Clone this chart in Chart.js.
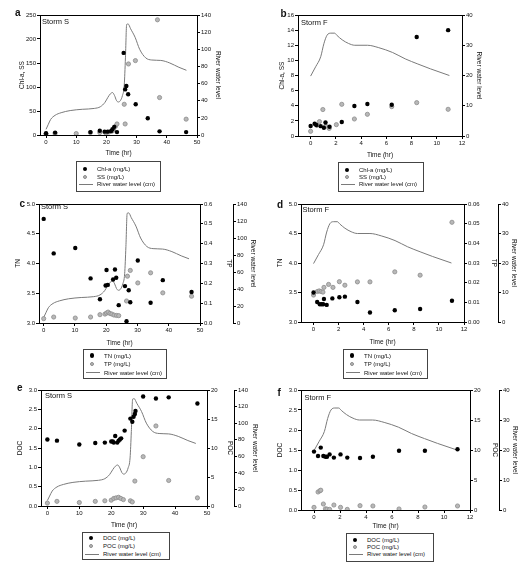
<!DOCTYPE html>
<html><head><meta charset="utf-8">
<script src="https://cdn.jsdelivr.net/npm/chart.js@4"></script>
<style>
body{margin:0;background:#fff;width:524px;height:579px;position:relative;overflow:hidden;font-family:"Liberation Sans",Arial,sans-serif;color:#111;}
canvas{position:absolute;}
.lbl{position:absolute;font-size:10px;font-weight:bold;line-height:10px;}
.storm{position:absolute;font-size:7.5px;line-height:8px;white-space:nowrap;}
.leg{position:absolute;border:1px solid #444;box-sizing:border-box;font-size:6px;}
.row{position:absolute;height:8px;line-height:8px;white-space:nowrap;}
.mk{position:absolute;border-radius:50%;box-sizing:border-box;}
.ln{position:absolute;height:1px;background:#7a7a7a;}
</style>
</head><body>
<script>
// ---------- Storm S (panels a, c, e) ----------
const levelS_t = [0, 0.7, 1.5, 3, 5, 8, 12, 16, 18, 19.5, 20.5, 21.3, 22, 22.7, 23.3, 23.9, 24.6, 25.3, 25.9, 26.3, 26.7, 27.2, 28, 29.5, 31, 33, 35, 38, 41, 44, 46.5];
const levelS   = [6.6, 12, 18, 23, 26, 28.5, 30, 31, 33, 38, 44, 48, 49.5, 46, 40.5, 38.5, 40, 46, 58, 90, 129, 129.5, 124, 114, 100, 90, 87.5, 87, 84, 79, 75.5];

const chlaS_t = [0, 3, 14.7, 17.8, 19.4, 20.4, 21.5, 22, 22.6, 23.5, 25.7, 26.2, 26.6, 27.2, 29.7, 33.7, 37.6, 46.4];
const chlaS   = [3.5, 5, 6, 9, 7, 7, 8, 12, 17, 6, 171, 95, 102, 85, 64, 35, 7.6, 6];
const ssS_t = [0, 3, 10, 14.7, 17.8, 19.8, 20.8, 21.8, 22.4, 23, 23.5, 25.9, 26.2, 27.3, 29.6, 36.9, 37.6, 46.4];
const ssS   = [2, 3, 3, 5, 5, 4, 6, 8, 10, 18, 23, 64, 23, 148, 155, 240, 78, 33];

const tnS_t = [0, 3.2, 10.1, 15, 18, 19.8, 20.1, 20.5, 22.2, 22.8, 23.2, 24, 26, 26.5, 27.2, 27.7, 30.1, 34.2, 38.1, 47.3];
const tnS   = [4.75, 4.17, 4.26, 3.75, 3.40, 3.63, 3.89, 3.64, 3.73, 3.90, 3.76, 3.30, 3.62, 3.03, 3.55, 3.35, 4.05, 3.34, 3.72, 3.52];
const tpS_t = [0, 3.2, 10.1, 15, 18, 19.6, 20.1, 20.6, 21.2, 21.8, 22.5, 23.3, 24, 26.5, 26.8, 27.7, 30.1, 34.2, 38.1, 47.3];
const tpS   = [0.022, 0.03, 0.025, 0.03, 0.042, 0.045, 0.05, 0.055, 0.048, 0.045, 0.04, 0.038, 0.037, 0.111, 0.236, 0.265, 0.202, 0.253, 0.152, 0.135];

const docS_t = [0, 3, 10, 15, 18, 20, 20.5, 20.8, 21.25, 21.9, 22.3, 22.7, 23.1, 24.2, 26, 26.6, 27, 27.4, 27.6, 30, 34, 38, 47];
const docS   = [1.72, 1.69, 1.59, 1.63, 1.64, 1.67, 1.67, 1.64, 1.81, 1.64, 1.69, 1.72, 1.75, 1.95, 2.26, 2.18, 2.31, 2.38, 2.46, 2.83, 2.78, 2.81, 2.65];
const pocS_t = [0, 3, 10, 15, 18, 20, 20.8, 21.5, 22.3, 23, 23.8, 26, 26.6, 27.4, 30, 34, 38, 47];
const pocS   = [0.5, 0.8, 0.6, 0.8, 0.9, 1.0, 1.3, 1.4, 1.5, 1.3, 1.1, 0.9, 0.7, 4.3, 8.5, 13.8, 4.4, 1.4];

// ---------- Storm F (panels b, d, f) ----------
const levelF_t = [0, 0.4, 0.8, 1.05, 1.3, 1.6, 1.9, 2.1, 2.5, 3, 3.5, 4.5, 5.4, 6.5, 7.5, 8.5, 9.5, 11];
const levelF   = [19.8, 22.9, 26.2, 30.5, 33.3, 34, 34, 33.2, 31.8, 30.6, 30, 30, 29.2, 27.6, 25.5, 23.8, 22.2, 20];

const chlaF_t = [0, 0.32, 0.45, 0.8, 1.05, 1.18, 1.5, 2.47, 3.47, 4.5, 6.43, 8.41, 10.9];
const chlaF   = [1.32, 1.62, 1.45, 1.3, 1.1, 1.78, 1.23, 1.85, 3.97, 4.23, 4.14, 13.1, 14.0];
const ssF_t = [0, 0.5, 0.7, 0.97, 1.2, 1.47, 2.04, 2.47, 3.47, 4.5, 6.43, 8.41, 10.9];
const ssF   = [0.62, 1.4, 1.9, 3.5, 1.3, 1.0, 1.5, 4.19, 2.25, 2.87, 3.88, 4.41, 3.53];

const tnF_t = [0, 0.29, 0.5, 0.64, 0.77, 0.83, 1.05, 1.5, 2.06, 2.5, 3.5, 4.5, 6.48, 8.5, 11.04];
const tnF   = [3.50, 3.34, 3.30, 3.30, 3.30, 3.39, 3.29, 3.40, 3.42, 3.43, 3.34, 3.16, 3.20, 3.22, 3.36];
const tpF_t = [0, 0.3, 0.45, 0.6, 0.75, 0.83, 1.2, 1.55, 2.06, 2.5, 3.5, 4.5, 6.48, 8.5, 11.04];
const tpF   = [0.0137, 0.0155, 0.0158, 0.0155, 0.0152, 0.0176, 0.0191, 0.0176, 0.0205, 0.0187, 0.0204, 0.0204, 0.0255, 0.0238, 0.0507];

const docF_t = [0, 0.31, 0.52, 0.72, 0.88, 1.0, 1.2, 1.53, 2.04, 2.56, 3.54, 4.53, 6.54, 8.53, 11.04];
const docF   = [1.46, 1.35, 1.56, 1.35, 1.33, 1.33, 1.39, 1.31, 1.39, 1.31, 1.30, 1.33, 1.48, 1.48, 1.52];
const pocF_t = [0, 0.31, 0.45, 0.52, 0.72, 0.88, 1.0, 1.2, 1.53, 2.04, 2.56, 3.54, 4.53, 6.54, 8.53, 11.04];
const pocF   = [0.44, 3.0, 3.2, 3.3, 1.0, 0.2, 0.15, 0.1, 0.83, 0.44, 0.1, 0.72, 0.67, 0.17, 0.5, 0.67];

// ---------- labels ----------
const timeTitle = 'Time (hr)';
const levelTitle = 'River water level';
const levelLegend = 'River water level (cm)';

const F = '"Liberation Sans", Arial, sans-serif';
const OFF = 3.9;
Chart.defaults.font.family = F;

function pts(t, v){ return t.map((x, i) => ({x: x, y: v[i]})); }

const boxPlugin = {
  id: 'box',
  afterDraw(chart){
    const a = chart.chartArea, ctx = chart.ctx;
    ctx.save();
    ctx.strokeStyle = '#000'; ctx.lineWidth = 1;
    const y = Math.round(a.top) + 0.5;
    ctx.beginPath(); ctx.moveTo(Math.round(a.left), y); ctx.lineTo(Math.round(a.right) + 1, y); ctx.stroke();
    ctx.restore();
  }
};

function yAxis(pos, min, max, step, dec, title, width, weight){
  return {
    type: 'linear', position: pos, min: min, max: max, weight: weight,
    ticks: {stepSize: step, includeBounds: false, autoSkip: false, font: {size: 6, family: F}, color: '#111', padding: 1,
            callback: v => Number(v).toFixed(dec)},
    grid: {drawOnChartArea: false, drawTicks: true, tickLength: 3, color: '#000', tickColor: '#000'},
    border: {display: true, color: '#000', width: 1},
    title: {display: true, text: title, font: {size: 6.5, family: F}, color: '#111', padding: 0},
    afterFit: s => { s.width = width; }
  };
}

function panel(g, xr, left, r1, r2, sets){
  const cl = Math.round(g.lt - OFF), ct = g.pt - 8;
  const cr = Math.round(g.rt + OFF), cb = Math.round(g.xt + OFF);
  const cv = document.createElement('canvas');
  cv.width = cr - cl; cv.height = cb - ct;
  cv.style.left = cl + 'px'; cv.style.top = ct + 'px';
  document.body.appendChild(cv);
  const scales = {
    x: {type: 'linear', position: 'bottom', min: xr[0], max: xr[1],
        ticks: {stepSize: xr[2], includeBounds: false, autoSkip: false, maxRotation: 0, font: {size: 6, family: F}, color: '#111', padding: 1,
                callback: v => String(Math.round(v))},
        grid: {drawOnChartArea: false, drawTicks: true, tickLength: 3, color: '#000', tickColor: '#000'},
        border: {display: true, color: '#000', width: 1},
        title: {display: true, text: timeTitle, font: {size: 6.5, family: F}, color: '#111', padding: 0},
        afterFit: s => { s.height = cb - g.pb; }},
    yL: yAxis('left', left[0], left[1], left[2], left[3], left[4], g.pl - cl, 0)
  };
  if (r2) {
    scales.yR = yAxis('right', r1[0], r1[1], r1[2], r1[3], r1[4], g.ax3 - g.pr, 0);
    scales.yW = yAxis('right', r2[0], r2[1], r2[2], r2[3], r2[4], cr - g.ax3, 1);
  } else {
    scales.yW = yAxis('right', r1[0], r1[1], r1[2], r1[3], r1[4], cr - g.pr, 0);
  }
  const ds = [
    {type: 'line', label: levelLegend, data: pts(sets.lt, sets.lv), yAxisID: 'yW', borderColor: '#7a7a7a', borderWidth: 1,
     pointRadius: 0, showLine: true, fill: false, cubicInterpolationMode: 'monotone', order: 3},
    {type: 'scatter', label: sets.n2, data: pts(sets.t2, sets.v2), yAxisID: sets.ax2, pointRadius: 2.1,
     backgroundColor: '#b8b8b8', borderColor: '#8c8c8c', borderWidth: 0.8, order: 2},
    {type: 'scatter', label: sets.n1, data: pts(sets.t1, sets.v1), yAxisID: 'yL', pointRadius: 2.2,
     backgroundColor: '#000', borderColor: '#000', borderWidth: 0, order: 1}
  ];
  new Chart(cv, {
    type: 'scatter',
    data: {datasets: ds},
    options: {
      responsive: false, animation: false, devicePixelRatio: 1,
      layout: {padding: {top: 8, left: 0, right: 0, bottom: 0}},
      plugins: {legend: {display: false}, tooltip: {enabled: false}},
      scales: scales
    },
    plugins: [boxPlugin]
  });
}

function text(cls, s, x, y){
  const d = document.createElement('div'); d.className = cls; d.textContent = s;
  d.style.left = x + 'px'; d.style.top = y + 'px'; document.body.appendChild(d);
}

function legend(x, y, w, h, rows, names){
  const d = document.createElement('div'); d.className = 'leg';
  d.style.left = x + 'px'; d.style.top = y + 'px'; d.style.width = w + 'px'; d.style.height = h + 'px';
  names.forEach((n, i) => {
    const cy = rows[i];
    if (i === 0) {
      const m = document.createElement('div'); m.className = 'mk';
      m.style.cssText = `left:${8 - 2.2}px;top:${cy - 2.2}px;width:4.4px;height:4.4px;background:#000;`;
      d.appendChild(m);
    } else if (i === 1) {
      const m = document.createElement('div'); m.className = 'mk';
      m.style.cssText = `left:${8 - 2}px;top:${cy - 2}px;width:4px;height:4px;background:#b8b8b8;border:0.8px solid #8c8c8c;`;
      d.appendChild(m);
    } else {
      const m = document.createElement('div'); m.className = 'ln';
      m.style.cssText = `left:2px;top:${cy - 0.5}px;width:14px;`;
      d.appendChild(m);
    }
    const r = document.createElement('div'); r.className = 'row'; r.textContent = n;
    r.style.left = '20px'; r.style.top = (cy - 4) + 'px';
    d.appendChild(r);
  });
  document.body.appendChild(d);
}

// Panel a
panel({pl: 40, pr: 197, pt: 15, pb: 135, lt: 21.7, rt: 218.3, xt: 152.7},
  [-2, 50, 10], [0, 250, 50, 0, 'Chl-a, SS'], [0, 140, 20, 0, levelTitle], null,
  {lt: levelS_t, lv: levelS, t1: chlaS_t, v1: chlaS, n1: 'Chl-a (mg/L)', t2: ssS_t, v2: ssS, n2: 'SS (mg/L)', ax2: 'yL'});
// Panel b
panel({pl: 298, pr: 462, pt: 15, pb: 136, lt: 282, rt: 478.7, xt: 155},
  [-1, 12, 2], [0, 16, 2, 0, 'Chl-a, SS'], [0, 40, 10, 0, levelTitle], null,
  {lt: levelF_t, lv: levelF, t1: chlaF_t, v1: chlaF, n1: 'Chl-a (mg/L)', t2: ssF_t, v2: ssF, n2: 'SS (mg/L)', ax2: 'yL'});
// Panel c
panel({pl: 39, pr: 200, pt: 204, pb: 323, lt: 18.3, ax3: 233, rt: 253.3, xt: 343.3},
  [-1.5, 50, 10], [3, 5, 0.5, 1, 'TN'], [0, 0.6, 0.1, 1, 'TP'], [0, 140, 20, 0, levelTitle],
  {lt: levelS_t, lv: levelS, t1: tnS_t, v1: tnS, n1: 'TN (mg/L)', t2: tpS_t, v2: tpS, n2: 'TP (mg/L)', ax2: 'yR'});
// Panel d
panel({pl: 301, pr: 464, pt: 204, pb: 322, lt: 280.3, ax3: 498, rt: 514.3, xt: 341.7},
  [-1, 12, 2], [3, 5, 0.5, 1, 'TN'], [0, 0.06, 0.01, 2, 'TP'], [0, 40, 10, 0, levelTitle],
  {lt: levelF_t, lv: levelF, t1: tnF_t, v1: tnF, n1: 'TN (mg/L)', t2: tpF_t, v2: tpF, n2: 'TP (mg/L)', ax2: 'yR'});
// Panel e
panel({pl: 41, pr: 207, pt: 390, pb: 506, lt: 20, ax3: 234, rt: 255, xt: 525},
  [-2, 50, 10], [0, 3, 0.5, 1, 'DOC'], [0, 20, 5, 0, 'POC'], [0, 140, 20, 0, levelTitle],
  {lt: levelS_t, lv: levelS, t1: docS_t, v1: docS, n1: 'DOC (mg/L)', t2: pocS_t, v2: pocS, n2: 'POC (mg/L)', ax2: 'yR'});
// Panel f
panel({pl: 301, pr: 470, pt: 390, pb: 510, lt: 280.3, ax3: 499, rt: 515.3, xt: 525.7},
  [-1, 12, 2], [0, 3, 0.5, 1, 'DOC'], [0, 20, 5, 0, 'POC'], [0, 40, 10, 0, levelTitle],
  {lt: levelF_t, lv: levelF, t1: docF_t, v1: docF, n1: 'DOC (mg/L)', t2: pocF_t, v2: pocF, n2: 'POC (mg/L)', ax2: 'yR'});

// Panel letters and storm names
text('lbl', 'a', 15, 8); text('lbl', 'b', 280.5, 9); text('lbl', 'c', 19.5, 199);
text('lbl', 'd', 277, 200); text('lbl', 'e', 17, 383); text('lbl', 'f', 277.5, 388);
text('storm', 'Storm S', 42, 18); text('storm', 'Storm F', 301, 19); text('storm', 'Storm S', 41, 203);
text('storm', 'Storm F', 302.5, 206); text('storm', 'Storm S', 45, 392); text('storm', 'Storm F', 304.5, 394);

// Legends
legend(76, 161, 85, 31, [7.3, 14.7, 22.3], ['Chl-a (mg/L)', 'SS (mg/L)', levelLegend]);
legend(338, 162, 86, 30, [6.7, 13.5, 21], ['Chl-a (mg/L)', 'SS (mg/L)', levelLegend]);
legend(83, 349, 84, 30, [5.5, 14, 22.5], ['TN (mg/L)', 'TP (mg/L)', levelLegend]);
legend(343, 349, 85, 30, [5.5, 14, 22.5], ['TN (mg/L)', 'TP (mg/L)', levelLegend]);
legend(82, 532, 88, 28, [5, 12.6, 21.2], ['DOC (mg/L)', 'POC (mg/L)', levelLegend]);
legend(346, 533, 88, 29, [5.7, 12.6, 20.3], ['DOC (mg/L)', 'POC (mg/L)', levelLegend]);
</script>
</body></html>
